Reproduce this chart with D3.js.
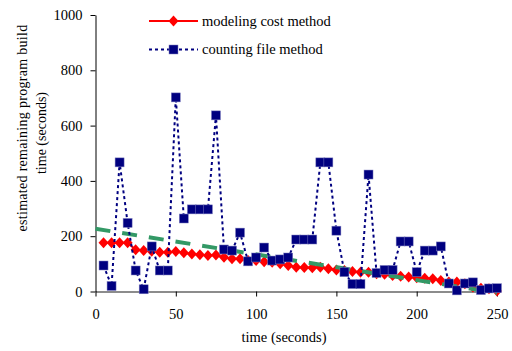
<!DOCTYPE html>
<html><head><meta charset="utf-8">
<script src="https://cdn.jsdelivr.net/npm/d3@7"></script>
<style>
html,body{margin:0;padding:0;background:#fff;}
svg text{font-family:"Liberation Serif","Times New Roman",Times,"DejaVu Serif",serif !important;fill:#000;}
</style></head>
<body>
<svg id="chart" width="512" height="351"></svg>
<script>
const times = [5,10,15,20,25,30,35,40,45,50,55,60,65,70,75,80,85,90,95,100,105,110,115,120,125,130,135,140,145,150,155,160,165,170,175,180,185,190,195,200,205,210,215,220,225,230,235,240,245,250];
const modelingCost = [176,176,176,176,151,148,146,142,142,145,140,136,133,130,132,124,118,118,112,112,108,106,100,94,88,87,86,88,82,78,76,72,70,70,64,62,58,55,52,50,48,46,40,34,34,28,16,12,10,2];
const countingFile = [94,20,467,248,76,8,163,76,76,702,264,297,297,297,637,152,148,213,109,123,159,112,116,123,188,188,188,467,467,220,70,27,27,423,67,78,78,181,181,70,148,148,163,29,4,29,33,5,11,12];
const trendTimes = [0,250];
const trendValues = [227,-5];
const xTicks = [0,50,100,150,200,250];
const yTicks = [0,200,400,600,800,1000];
const seriesNames = ["modeling cost method","counting file method"];

const svg = d3.select("#chart");
const x = d3.scaleLinear().domain([0,250]).range([95.5,497]);
const y = d3.scaleLinear().domain([0,1000]).range([291.5,15]);

// axes
const xAxis = svg.append("g").attr("transform","translate(0,291.5)")
  .call(d3.axisBottom(x).tickValues(xTicks).tickFormat(d3.format("d")).tickSize(5).tickSizeOuter(0).tickPadding(12));
xAxis.attr("font-family",null);
xAxis.select(".domain").attr("stroke","#666").attr("stroke-width",1.5);
xAxis.selectAll(".tick line").attr("stroke","#000");
xAxis.selectAll("text").attr("font-size","14.5px");

const yAxis = svg.append("g").attr("transform","translate(95.5,0)")
  .call(d3.axisLeft(y).tickValues(yTicks).tickFormat(d3.format("d")).tickSize(5).tickSizeOuter(0).tickPadding(8));
yAxis.attr("font-family",null);
yAxis.select(".domain").attr("stroke","#000");
yAxis.selectAll("text").attr("font-size","14.5px");

// axis titles
svg.append("text").attr("x",284).attr("y",342).attr("text-anchor","middle")
  .attr("font-size","14.5px").text("time (seconds)");
svg.append("text").attr("transform","translate(27,128) rotate(-90)").attr("text-anchor","middle")
  .attr("font-size","14px").attr("letter-spacing","0.3px").text("estimated remaining program build");
svg.append("text").attr("transform","translate(46,133) rotate(-90)").attr("text-anchor","middle")
  .attr("font-size","14px").text("time (seconds)");

const line = d3.line().x(d=>x(d[0])).y(d=>y(d[1]));
const redData = times.map((t,i)=>[t,modelingCost[i]]);
const blueData = times.map((t,i)=>[t,countingFile[i]]);
const trendData = trendTimes.map((t,i)=>[t,trendValues[i]]);

function diamond(g, cx, cy){
  g.append("path").attr("d",`M${cx},${cy-5.5}L${cx+5},${cy}L${cx},${cy+5.5}L${cx-5},${cy}Z`).attr("fill","#ff0000");
}
function square(g, cx, cy){
  g.append("rect").attr("x",cx-4.5).attr("y",cy-4.5).attr("width",9).attr("height",9)
    .attr("fill","#000080").attr("stroke","#8080c0").attr("stroke-width",0.5);
}

// red series
svg.append("path").datum(redData).attr("d",line).attr("fill","none").attr("stroke","#ff0000").attr("stroke-width",2);
const rg = svg.append("g");
redData.forEach(d=>diamond(rg,x(d[0]),y(d[1])));

// trend
svg.append("path").datum(trendData).attr("d",line).attr("fill","none")
  .attr("stroke","#339966").attr("stroke-width",4).attr("stroke-dasharray","15,12");

// navy series
svg.append("path").datum(blueData).attr("d",line).attr("fill","none").attr("stroke","#000080")
  .attr("stroke-width",2).attr("stroke-dasharray","3,3");
const bg = svg.append("g");
blueData.forEach(d=>square(bg,x(d[0]),y(d[1])));

// legend
const lg = svg.append("g");
lg.append("line").attr("x1",149).attr("x2",198).attr("y1",21).attr("y2",21).attr("stroke","#ff0000").attr("stroke-width",2);
diamond(lg,173.5,21);
lg.append("text").attr("x",202).attr("y",25.5).attr("font-size","14.5px").text(seriesNames[0]);
lg.append("line").attr("x1",149).attr("x2",198).attr("y1",49.5).attr("y2",49.5).attr("stroke","#000080").attr("stroke-width",2).attr("stroke-dasharray","3,3");
square(lg,173.5,49.5);
lg.append("text").attr("x",202).attr("y",54).attr("font-size","14.5px").text(seriesNames[1]);
</script>
</body></html>
